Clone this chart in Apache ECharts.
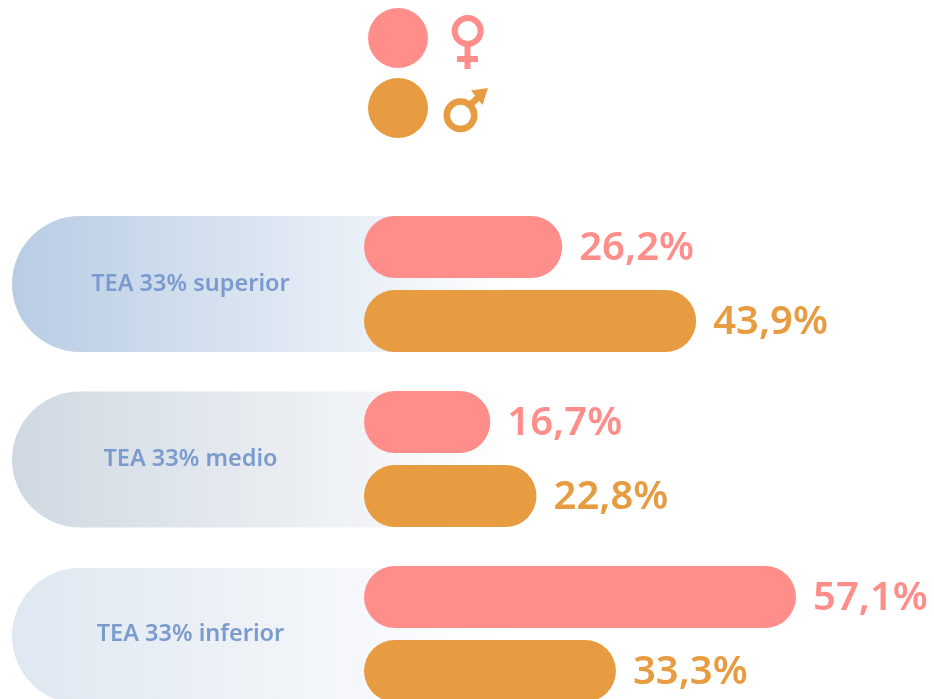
<!DOCTYPE html>
<html><head><meta charset="utf-8">
<style>html,body{margin:0;padding:0;background:#fff;overflow:hidden}#c{width:934px;height:699px}</style>
<script src="https://cdn.jsdelivr.net/npm/echarts@6/dist/echarts.min.js"></script>
</head><body><div id="c"></div>
<script>
const categories = ['TEA 33% superior', 'TEA 33% medio', 'TEA 33% inferior'];
const mujeres = [26.2, 16.7, 57.1];
const hombres = [43.9, 22.8, 33.3];
const pillColors = ['#b8cce4', '#cfd8e2', '#dfe7f1'];
const pillShift = [0, 0.5, 2];
const pink = '#ff8e8a', orange = '#e79c41';

const PX = 7.566, ZERO = 364, W = 934;
const fmt = p => p.value.toFixed(1).replace('.', ',') + '%';
const lbl = (color) => ({
  show: true, position: 'right', distance: 17, formatter: fmt, color,
  fontFamily: 'Noto Sans', fontWeight: 600, fontSize: 40, offset: [0, 2]
});
const RADIUS = 31;
const chart = echarts.init(document.getElementById('c'), null, {renderer: 'canvas'});
chart.setOption({
  animation: false,
  backgroundColor: '#fff',
  grid: {left: 0, width: W, top: 196.5, height: 525, outerBoundsMode: 'none'},
  xAxis: {type: 'value', min: -ZERO / PX, max: (W - ZERO) / PX, show: false},
  yAxis: {
    type: 'category', data: categories, inverse: true, z: 6,
    axisLine: {show: false}, axisTick: {show: false},
    axisLabel: {
      inside: true, margin: 190.5, align: 'center', color: '#7b9bcf',
      fontFamily: 'Noto Sans', fontWeight: 600, fontSize: 23.5, padding: [3, 0, 0, 0]
    }
  },
  legend: {
    data: ['Mujeres', 'Hombres'], orient: 'vertical', left: 368, top: 8,
    itemWidth: 60, itemHeight: 60, itemGap: 10, icon: 'circle',
    padding: 0, formatter: () => '', selectedMode: false
  },
  series: [
    {
      type: 'custom', name: 'fondo', z: 1, silent: true, clip: false,
      data: categories.map((c, i) => [i]),
      encode: {y: 0},
      renderItem(params, api) {
        const i = api.value(0);
        const p = api.coord([0, i]);
        const x0 = 12, x1 = 512, h = 136;
        return {
          type: 'rect',
          shape: {x: x0, y: p[1] - h / 2 + pillShift[i], width: x1 - x0, height: h, r: [68, 0, 0, 68]},
          style: {fill: new echarts.graphic.LinearGradient(0, 0, 1, 0, [
            {offset: 0, color: pillColors[i]}, {offset: 1, color: '#ffffff'}
          ])}
        };
      }
    },
    {
      type: 'bar', name: 'Mujeres', data: mujeres, barWidth: 62, barGap: '19.35%', z: 3,
      itemStyle: {color: pink, borderRadius: RADIUS}, label: lbl(pink)
    },
    {
      type: 'bar', name: 'Hombres', data: hombres, barWidth: 62, z: 3,
      itemStyle: {color: orange, borderRadius: RADIUS}, label: lbl(orange)
    }
  ],
  graphic: [
    {type: 'circle', shape: {cx: 467.7, cy: 31, r: 13}, style: {fill: 'none', stroke: pink, lineWidth: 6}},
    {type: 'rect', shape: {x: 464.5, y: 45, width: 6, height: 24}, style: {fill: pink}},
    {type: 'rect', shape: {x: 457, y: 56, width: 21, height: 6}, style: {fill: pink}},
    {type: 'circle', shape: {cx: 460.5, cy: 115.3, r: 13.75}, style: {fill: 'none', stroke: orange, lineWidth: 6.5}},
    {type: 'line', shape: {x1: 470, y1: 105, x2: 482, y2: 94}, style: {stroke: orange, lineWidth: 6.5}},
    {type: 'polygon', shape: {points: [[471, 90.5], [488, 88], [482.5, 105]]}, style: {fill: orange}}
  ]
});
</script></body></html>
